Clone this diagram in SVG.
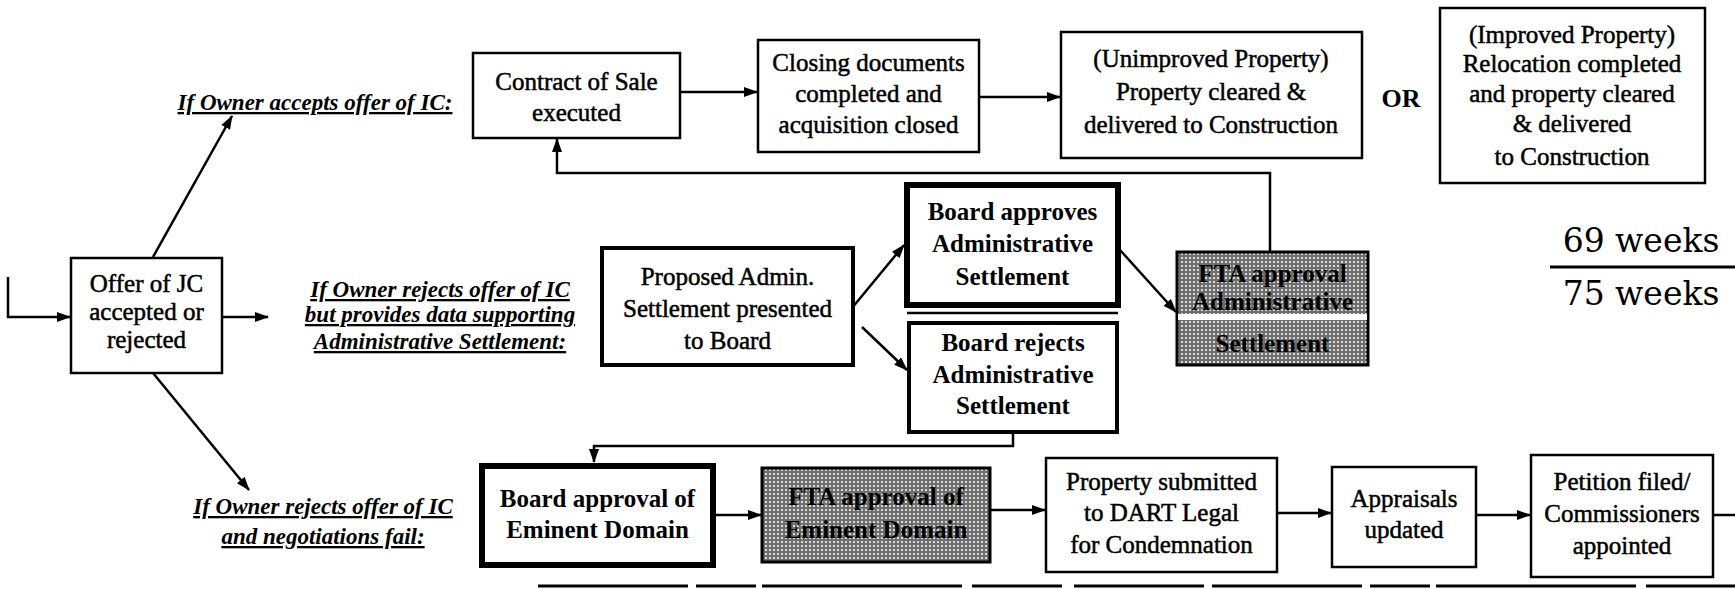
<svg xmlns="http://www.w3.org/2000/svg" width="1735" height="589" viewBox="0 0 1735 589">
<style>
text{font-family:"Liberation Serif","Times New Roman",serif;fill:#000}
.t{font-size:25px;text-anchor:middle;stroke:#000;stroke-width:0.5}
.b{font-size:25px;font-weight:bold;text-anchor:middle}
.lbl{font-size:23px;font-weight:bold;font-style:italic;text-anchor:middle;text-decoration:underline}
.box{fill:#fff;stroke:#000;stroke-width:2.5}
.thick{fill:#fff;stroke:#000;stroke-width:6}
.med{fill:#fff;stroke:#000;stroke-width:4}
.gray{fill:url(#hatch);stroke:#000;stroke-width:3}
.c{fill:none;stroke:#000;stroke-width:2.5}
.wk{font-family:"DejaVu Serif","Liberation Serif",serif;font-size:33px;text-anchor:middle}
</style>
<defs>
<marker id="ah" markerWidth="14" markerHeight="10" refX="13" refY="5" orient="auto" markerUnits="userSpaceOnUse"><path d="M0,0 L14,5 L0,10 z" fill="#000"/></marker>
<pattern id="hatch" width="4" height="4" patternUnits="userSpaceOnUse"><rect width="4" height="4" fill="#6e6e6e"/><rect x="1" y="1" width="2" height="2" fill="#d8d8d8"/></pattern>
</defs>
<rect width="1735" height="589" fill="#fff"/>

<g id="connectors">
<polyline class="c" points="8,277 8,317 70,317" marker-end="url(#ah)"/>
<line class="c" x1="153" y1="257" x2="232" y2="116" marker-end="url(#ah)"/>
<line class="c" x1="222" y1="317" x2="268" y2="317" marker-end="url(#ah)"/>
<line class="c" x1="153" y1="373" x2="249" y2="490" marker-end="url(#ah)"/>
<line class="c" x1="680" y1="92" x2="757" y2="92" marker-end="url(#ah)"/>
<line class="c" x1="979" y1="97" x2="1060" y2="97" marker-end="url(#ah)"/>
<polyline class="c" points="1270,252 1270,173 557,173 557,139" marker-end="url(#ah)"/>
<line class="c" x1="852" y1="308" x2="904" y2="245" marker-end="url(#ah)"/>
<line class="c" x1="862" y1="327" x2="907" y2="370" marker-end="url(#ah)"/>
<line class="c" x1="1120" y1="250" x2="1176" y2="312" marker-end="url(#ah)"/>
<polyline class="c" points="1013,432 1013,446 594,446 594,462" marker-end="url(#ah)"/>
<line class="c" x1="713" y1="515" x2="761" y2="515" marker-end="url(#ah)"/>
<line class="c" x1="990" y1="510" x2="1045" y2="510" marker-end="url(#ah)"/>
<line class="c" x1="1277" y1="513" x2="1331" y2="513" marker-end="url(#ah)"/>
<line class="c" x1="1476" y1="515" x2="1530" y2="515" marker-end="url(#ah)"/>
<line class="c" x1="1713" y1="515" x2="1735" y2="515"/>
<line class="c" x1="907" y1="313" x2="1118" y2="313"/>
<line x1="538" y1="586" x2="1735" y2="586" stroke="#000" stroke-width="3" stroke-dasharray="150 8 60 6 200 10 90 12 130 8"/>
</g>

<g id="label-accepts">
<text class="lbl" x="315" y="110">If Owner accepts offer of IC:</text>
</g>
<g id="label-admin">
<text class="lbl" x="440" y="297">If Owner rejects offer of IC</text>
<text class="lbl" x="440" y="322">but provides data supporting</text>
<text class="lbl" x="440" y="349">Administrative Settlement:</text>
</g>
<g id="label-fail">
<text class="lbl" x="323" y="514">If Owner rejects offer of IC</text>
<text class="lbl" x="323" y="544">and negotiations fail:</text>
</g>

<g id="offer">
<rect class="box" x="71" y="258" width="151" height="115"/>
<text class="t" x="146.5" y="292">Offer of JC</text>
<text class="t" x="146.5" y="320">accepted or</text>
<text class="t" x="146.5" y="348">rejected</text>
</g>

<g id="contract">
<rect class="box" x="473" y="53" width="207" height="85"/>
<text class="t" x="576.5" y="90">Contract of Sale</text>
<text class="t" x="576.5" y="121">executed</text>
</g>

<g id="closing">
<rect class="box" x="758" y="40" width="221" height="112"/>
<text class="t" x="868.5" y="71">Closing documents</text>
<text class="t" x="868.5" y="102">completed and</text>
<text class="t" x="868.5" y="133">acquisition closed</text>
</g>

<g id="unimproved">
<rect class="box" x="1061" y="32" width="301" height="126"/>
<text class="t" x="1211" y="67">(Unimproved Property)</text>
<text class="t" x="1211" y="100">Property cleared &amp;</text>
<text class="t" x="1211" y="133">delivered to Construction</text>
</g>

<g id="or">
<text x="1401" y="107" style="font-size:26px;font-weight:bold;text-anchor:middle">OR</text>
</g>

<g id="improved">
<rect class="box" x="1440" y="8" width="265" height="175"/>
<text class="t" x="1572" y="43">(Improved Property)</text>
<text class="t" x="1572" y="72">Relocation completed</text>
<text class="t" x="1572" y="102">and property cleared</text>
<text class="t" x="1572" y="132">&amp; delivered</text>
<text class="t" x="1572" y="165">to Construction</text>
</g>

<g id="weeks">
<text class="wk" x="1641" y="252">69 weeks</text>
<line x1="1550" y1="267" x2="1735" y2="267" stroke="#000" stroke-width="3"/>
<text class="wk" x="1641" y="305">75 weeks</text>
</g>

<g id="proposed">
<rect class="med" x="602" y="248" width="251" height="117"/>
<text class="t" x="727.5" y="285">Proposed Admin.</text>
<text class="t" x="727.5" y="317">Settlement presented</text>
<text class="t" x="727.5" y="349">to Board</text>
</g>

<g id="board-approves">
<rect class="thick" x="907" y="185" width="211" height="120"/>
<text class="b" x="1012.5" y="220">Board approves</text>
<text class="b" x="1012.5" y="252">Administrative</text>
<text class="b" x="1012.5" y="285">Settlement</text>
</g>

<g id="board-rejects">
<rect class="med" x="909" y="323" width="208" height="109"/>
<text class="b" x="1013" y="351">Board rejects</text>
<text class="b" x="1013" y="383">Administrative</text>
<text class="b" x="1013" y="414">Settlement</text>
</g>

<g id="fta-admin">
<rect class="gray" x="1177" y="252" width="191" height="113"/>
<rect x="1178" y="314" width="189" height="6" fill="#fff"/>
<text class="b" x="1272.5" y="282">FTA approval</text>
<text class="b" x="1272.5" y="310">Administrative</text>
<text class="b" x="1272.5" y="352">Settlement</text>
</g>

<g id="board-ed">
<rect class="thick" x="482" y="466" width="231" height="99"/>
<text class="b" x="597.5" y="507">Board approval of</text>
<text class="b" x="597.5" y="538">Eminent Domain</text>
</g>

<g id="fta-ed">
<rect class="gray" x="762" y="468" width="228" height="94"/>
<text class="b" x="876" y="505">FTA approval of</text>
<text class="b" x="876" y="538">Eminent Domain</text>
</g>

<g id="property">
<rect class="box" x="1046" y="458" width="231" height="114"/>
<text class="t" x="1161.5" y="490">Property submitted</text>
<text class="t" x="1161.5" y="521">to DART Legal</text>
<text class="t" x="1161.5" y="553">for Condemnation</text>
</g>

<g id="appraisals">
<rect class="box" x="1332" y="467" width="144" height="100"/>
<text class="t" x="1404" y="507">Appraisals</text>
<text class="t" x="1404" y="538">updated</text>
</g>

<g id="petition">
<rect class="box" x="1531" y="455" width="182" height="122"/>
<text class="t" x="1622" y="490">Petition filed/</text>
<text class="t" x="1622" y="522">Commissioners</text>
<text class="t" x="1622" y="554">appointed</text>
</g>
</svg>
